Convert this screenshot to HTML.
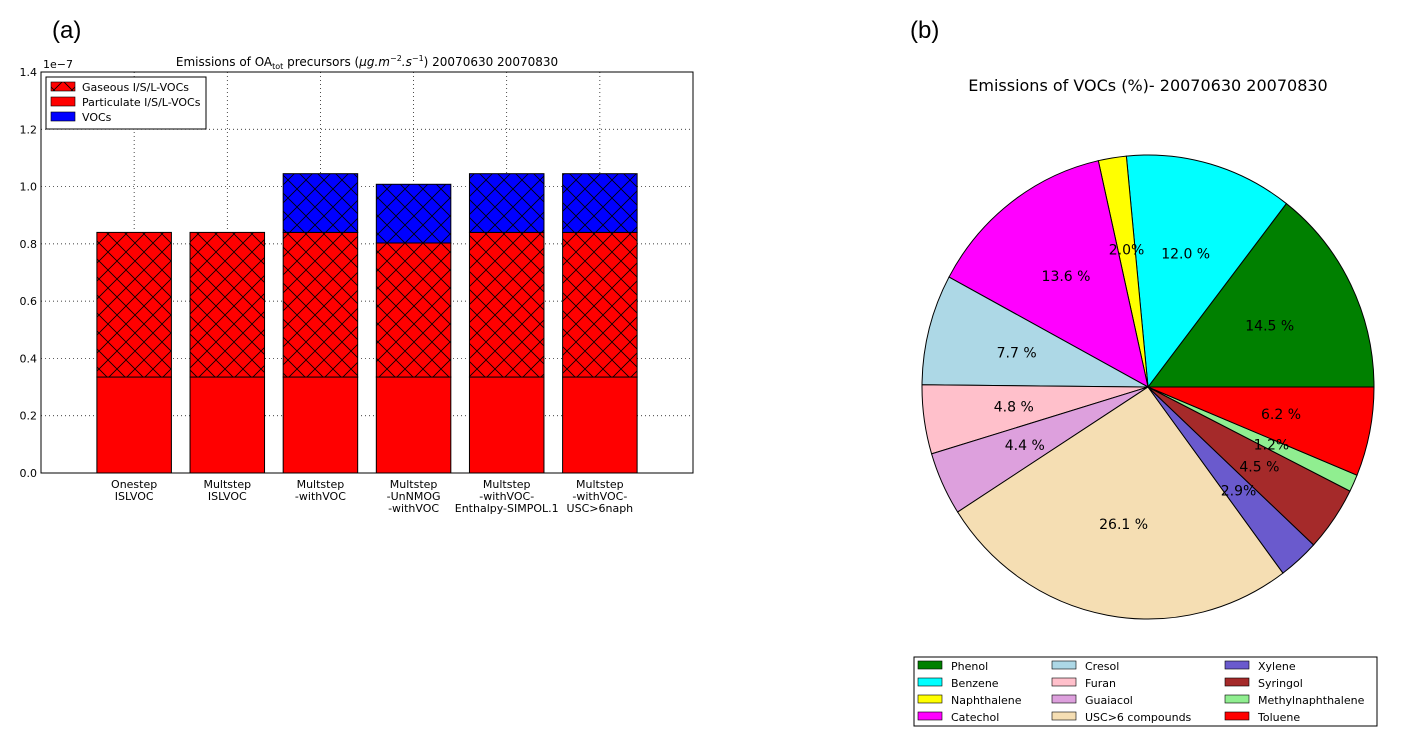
<!DOCTYPE html>
<html><head><meta charset="utf-8"><style>
html,body{margin:0;padding:0;background:#fff;}
svg{display:block;font-family:"DejaVu Sans","Liberation Sans",sans-serif;}
</style></head><body>
<svg id="root" width="1403" height="753" viewBox="0 0 1403 753" xmlns="http://www.w3.org/2000/svg">
<defs>
<pattern id="xh" patternUnits="userSpaceOnUse" width="18" height="18" x="0" y="0">
<path d="M0,0 L18,18 M18,0 L0,18" stroke="#000" stroke-width="0.8" fill="none"/>
</pattern>
</defs>
<text x="52" y="38" font-size="24" font-family="Liberation Sans, sans-serif">(a)</text>
<text x="910" y="38" font-size="24" font-family="Liberation Sans, sans-serif">(b)</text>
<g id="barChart"></g>
<g id="pieChart"></g>
</svg>
<script>
const NS="http://www.w3.org/2000/svg";
const categories=[["Onestep","ISLVOC"],["Multstep","ISLVOC"],["Multstep","-withVOC"],["Multstep","-UnNMOG","-withVOC"],["Multstep","-withVOC-","Enthalpy-SIMPOL.1"],["Multstep","-withVOC-","USC>6naph"]];
const particulate=[0.335,0.335,0.335,0.335,0.335,0.335];
const gaseous=[0.505,0.505,0.505,0.468,0.505,0.505];
const vocs=[0,0,0.205,0.205,0.205,0.205];
const yTicks=["0.0","0.2","0.4","0.6","0.8","1.0","1.2","1.4"];
const pieLabels=["Phenol","Benzene","Naphthalene","Catechol","Cresol","Furan","Guaiacol","USC>6 compounds","Xylene","Syringol","Methylnaphthalene","Toluene"];
const pieValues=[14.5,12.0,2.0,13.6,7.7,4.8,4.4,26.1,2.9,4.5,1.2,6.2];
const pieColors=["#008000","#00ffff","#ffff00","#ff00ff","#add8e6","#ffc0cb","#dda0dd","#f5deb3","#6a5acd","#a52a2a","#90ee90","#ff0000"];

function mk(tag,attrs,parent,text){const e=document.createElementNS(NS,tag);for(const k in attrs)e.setAttribute(k,attrs[k]);if(text!==undefined)e.textContent=text;parent.appendChild(e);return e;}

// Bar chart
const bc=document.getElementById('barChart');
const L=41,R=693,T=72,B=473;
const xs=i=>L+(i+1)*(R-L)/7;
const ys=v=>B-v/1.4*(B-T);
const bw=0.8*(R-L)/7;
let t=mk('text',{x:(L+R)/2,y:66,'font-size':12,'text-anchor':'middle'},bc,'Emissions of OA');


mk('tspan',{'font-size':8,dy:3},t,'tot');
mk('tspan',{dy:-3},t,' precursors (');
mk('tspan',{'font-style':'italic'},t,'μg.m');
mk('tspan',{'font-size':8,dy:-5},t,'−2');
mk('tspan',{dy:5,'font-style':'italic'},t,'.s');
mk('tspan',{'font-size':8,dy:-5},t,'−1');
mk('tspan',{dy:5},t,') 20070630 20070830');
t=mk('text',{x:L+2,y:T-4,'font-size':11},bc,'1e−7');


// grid
yTicks.forEach((lab,i)=>{const v=parseFloat(lab);const y=ys(v);
 if(i>0&&i<yTicks.length-1){const g=mk('line',{x1:L,x2:R,y1:y,y2:y,stroke:'#000','stroke-width':0.7,'stroke-dasharray':'1,3'},bc);}
 const tl=mk('text',{x:L-4,y:y+4,'font-size':11,'text-anchor':'end'},bc,lab);
 
 
});
categories.forEach((c,i)=>{const x=xs(i);
 const g=mk('line',{x1:x,x2:x,y1:T,y2:B,stroke:'#000','stroke-width':0.7,'stroke-dasharray':'1,3'},bc);
 
 
});
categories.forEach((c,i)=>{const x=xs(i)-bw/2;
 const p0=ys(0),p1=ys(particulate[i]),g1=ys(particulate[i]+gaseous[i]),v1=ys(particulate[i]+gaseous[i]+vocs[i]);
 let r=mk('rect',{x:x,y:p1,width:bw,height:p0-p1,fill:'#ff0000',stroke:'#000','stroke-width':1},bc);
 
 
 r=mk('rect',{x:x,y:g1,width:bw,height:p1-g1,fill:'#ff0000',stroke:'#000','stroke-width':1},bc);
 
 
 mk('rect',{x:x,y:g1,width:bw,height:p1-g1,fill:'url(#xh)'},bc);
 if(vocs[i]>0){r=mk('rect',{x:x,y:v1,width:bw,height:g1-v1,fill:'#0000ff',stroke:'#000','stroke-width':1},bc);
 
 
 mk('rect',{x:x,y:v1,width:bw,height:g1-v1,fill:'url(#xh)'},bc);}
 c.forEach((ln,j)=>{const tl=mk('text',{x:xs(i),y:B+15+j*12,'font-size':11,'text-anchor':'middle'},bc,ln);
 
 });
});
let ax=mk('rect',{x:L,y:T,width:R-L,height:B-T,fill:'none',stroke:'#000','stroke-width':1},bc);


// legend
const lg=mk('g',{},bc);


mk('rect',{x:46,y:77,width:160,height:52,fill:'#fff',stroke:'#000','stroke-width':1},lg);
[["Gaseous I/S/L-VOCs","#ff0000",true],["Particulate I/S/L-VOCs","#ff0000",false],["VOCs","#0000ff",false]].forEach((e,i)=>{
 const y=82+i*15;
 mk('rect',{x:51,y:y,width:24,height:9,fill:e[1],stroke:'#000','stroke-width':0.6},lg);
 if(e[2])mk('rect',{x:51,y:y,width:24,height:9,fill:'url(#xh)'},lg);
 const tx=mk('text',{x:82,y:y+9,'font-size':11},lg,e[0]);
 
 
});

// Pie chart
const pc=document.getElementById('pieChart');
const cx=1148,cy=387,rx=226,ry=232;
t=mk('text',{x:cx,y:91,'font-size':16,'text-anchor':'middle'},pc,'Emissions of VOCs (%)- 20070630 20070830');


const total=pieValues.reduce((a,b)=>a+b,0);
let a0=0;
pieValues.forEach((v,i)=>{
 const a1=a0+v/total*2*Math.PI;
 const x0=cx+rx*Math.cos(a0),y0=cy-ry*Math.sin(a0),x1=cx+rx*Math.cos(a1),y1=cy-ry*Math.sin(a1);
 const large=(a1-a0)>Math.PI?1:0;
 const p=mk('path',{d:`M${cx},${cy} L${x0},${y0} A${rx},${ry} 0 ${large} 0 ${x1},${y1} Z`,fill:pieColors[i],stroke:'#000','stroke-width':1},pc);
 
 
 a0=a1;
});
a0=0;
pieValues.forEach((v,i)=>{
 const am=a0+v/total*Math.PI;a0+=v/total*2*Math.PI;
 const lx=cx+0.6*rx*Math.cos(am),ly=cy-0.6*ry*Math.sin(am);
 const s=v.toFixed(1)+(v<3.5?'%':' %');
 const tl=mk('text',{x:lx,y:ly+5,'font-size':14,'text-anchor':'middle'},pc,s);
 
 
});
// pie legend
const pl=mk('g',{},pc);


mk('rect',{x:914,y:657,width:463,height:69,fill:'#fff',stroke:'#000','stroke-width':1},pl);
const colX=[918,1052,1225];
pieLabels.forEach((lab,i)=>{
 const col=Math.floor(i/4),row=i%4;
 const x=colX[col],y=661+row*17;
 mk('rect',{x:x,y:y,width:24,height:8,fill:pieColors[i],stroke:'#000','stroke-width':0.6},pl);
 const tx=mk('text',{x:x+33,y:y+9,'font-size':11},pl,lab);
 
 
});
</script>
</body></html>
